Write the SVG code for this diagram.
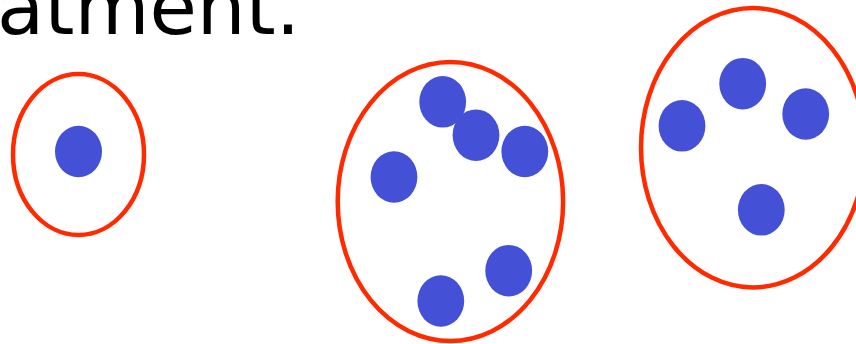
<svg xmlns="http://www.w3.org/2000/svg" width="856" height="344" viewBox="0 0 856 344">
<style>
.cell{fill:none;stroke:#ff2a00;stroke-width:4.5}
.dot{fill:#4450d6}
.t{font-family:"DejaVu Sans",Verdana,sans-serif;font-size:77px;fill:#000}
</style>
<rect width="856" height="344" fill="#fff"/>
<text class="t" x="-3" y="34">atment.</text>
<g id="group1">
<ellipse class="cell" cx="78.5" cy="154.5" rx="65.5" ry="80.5"/>
<ellipse class="dot" cx="78.5" cy="151.5" rx="23.5" ry="25.8"/>
</g>
<g id="group2">
<ellipse class="cell" cx="450.4" cy="201.5" rx="112.7" ry="139.5"/>
<ellipse class="dot" cx="442.7" cy="101.8" rx="23.4" ry="25.8"/>
<ellipse class="dot" cx="476" cy="135.2" rx="23.4" ry="25.8"/>
<ellipse class="dot" cx="524.8" cy="151.5" rx="23.4" ry="25.8"/>
<ellipse class="dot" cx="394" cy="177" rx="23.4" ry="25.8"/>
<ellipse class="dot" cx="508.7" cy="270.7" rx="23.4" ry="25.8"/>
<ellipse class="dot" cx="440.8" cy="301" rx="23.4" ry="25.8"/>
</g>
<g id="group3">
<ellipse class="cell" cx="753" cy="147.7" rx="112" ry="139.7"/>
<ellipse class="dot" cx="682" cy="125.8" rx="23.4" ry="25.8"/>
<ellipse class="dot" cx="742.7" cy="83.7" rx="23.4" ry="25.8"/>
<ellipse class="dot" cx="805.7" cy="114" rx="23.4" ry="25.8"/>
<ellipse class="dot" cx="761.3" cy="209.8" rx="23.4" ry="25.8"/>
</g>
<g id="connectors"/>
</svg>
